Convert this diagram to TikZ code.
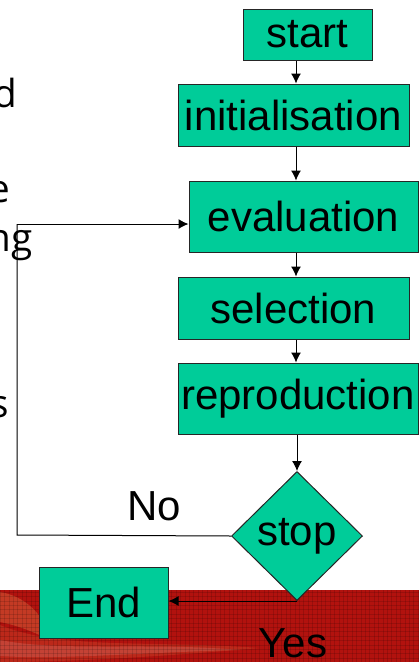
\documentclass[tikz,border=0pt]{standalone}
\usepackage{fontspec}
\setmainfont{Liberation Sans}
\newfontfamily\sidefont{Open Sans}
\usetikzlibrary{shapes.geometric,arrows.meta,calc}
\definecolor{boxgreen}{RGB}{0,204,153}
\definecolor{bandred}{RGB}{178,18,14}
\definecolor{swirl}{RGB}{225,120,70}
\begin{document}
\begin{tikzpicture}[x=0.75pt,y=-0.75pt,
  box/.style={draw=black!85,fill=boxgreen,line width=0.75pt,inner sep=0pt,
    font=\fontsize{31.5}{36}\selectfont},
  arr/.style={-{Latex[length=7.5pt,width=7.5pt]},line width=0.75pt},
  flow/.style={line width=0.75pt},
  lbl/.style={font=\fontsize{31.5}{36}\selectfont,inner sep=0pt,anchor=base},
  side/.style={font=\sidefont\fontsize{29}{35}\selectfont,inner sep=0pt,anchor=base east}]
% page
\fill[white] (0,0) rectangle (419,662);
\useasboundingbox (0,0) rectangle (419,662);
% red band with texture
\fill[bandred] (0,590) rectangle (419,662);
\begin{scope}
  \clip (0,590) rectangle (419,662);
  \fill[swirl,opacity=0.4] (0,592) .. controls (25,596) and (45,615) .. (50,640)
     .. controls (30,630) and (15,625) .. (0,622) -- cycle;
  \fill[swirl,opacity=0.22] (0,625) .. controls (60,650) and (150,640) .. (260,648)
     .. controls (180,655) and (80,662) .. (0,662) -- cycle;
  \fill[white,opacity=0.12] (0,640) .. controls (60,652) and (150,642) .. (240,650)
     .. controls (150,652) and (60,660) .. (0,656) -- cycle;
  \foreach \i in {0,4.4,...,420} \draw[black,opacity=0.13,line width=0.35pt] (\i,590) -- (\i,662);
  \foreach \j in {592,596.4,...,662} \draw[black,opacity=0.13,line width=0.35pt] (0,\j) -- (419,\j);
\end{scope}
% cut-off slide text on the left
\node[side] (t1) at (17,107) {d};
\node[side] (t2) at (10,202) {e};
\node[side] (t3) at (33,251) {ng};
\node[side] (t4) at (9,417) {s};
% flowchart nodes
\node[box,minimum width=96.75pt,minimum height=38.25pt] (start) at (307.5,34.5) {start};
\node[box,minimum width=173.25pt,minimum height=46.5pt] (init) at (293.5,115) {initialisation};
\node[box,minimum width=171.75pt,minimum height=53.25pt] (eval) at (303.5,216.5) {evaluation};
\node[box,minimum width=173.25pt,minimum height=46.5pt] (sel) at (293.5,308) {selection};
\node[box,minimum width=180pt,minimum height=53.25pt] (repro) at (298,398.5) {reproduction};
\node[box,diamond,minimum width=98.25pt,minimum height=96.75pt] (stop) at (297,536) {stop};
\node[box,minimum width=96.75pt,minimum height=53.25pt] (end) at (103.5,602.5) {End};
% labels
\node[lbl] (no) at (154,520) {No};
\node[lbl] (yes) at (293,657) {Yes};
% connectors
\coordinate (spine) at (296,0);
\coordinate (fbl) at (17,535);
\coordinate (fbt) at (17,224);
\draw[arr] (start.south -| spine) -- (init.north -| spine);
\draw[arr] (init.south -| spine) -- (eval.north -| spine);
\draw[arr] (eval.south -| spine) -- (sel.north -| spine);
\draw[arr] (sel.south -| spine) -- (repro.north -| spine);
\draw[arr] (repro.south -| stop.north) -- (stop.north);
\draw[flow] (stop.west) -- (fbl) -- (fbt);
\draw[arr] (fbt) -- (fbt -| eval.west);
\draw[arr] (stop.south) -- (stop.south -| end.east);
\end{tikzpicture}
\end{document}
